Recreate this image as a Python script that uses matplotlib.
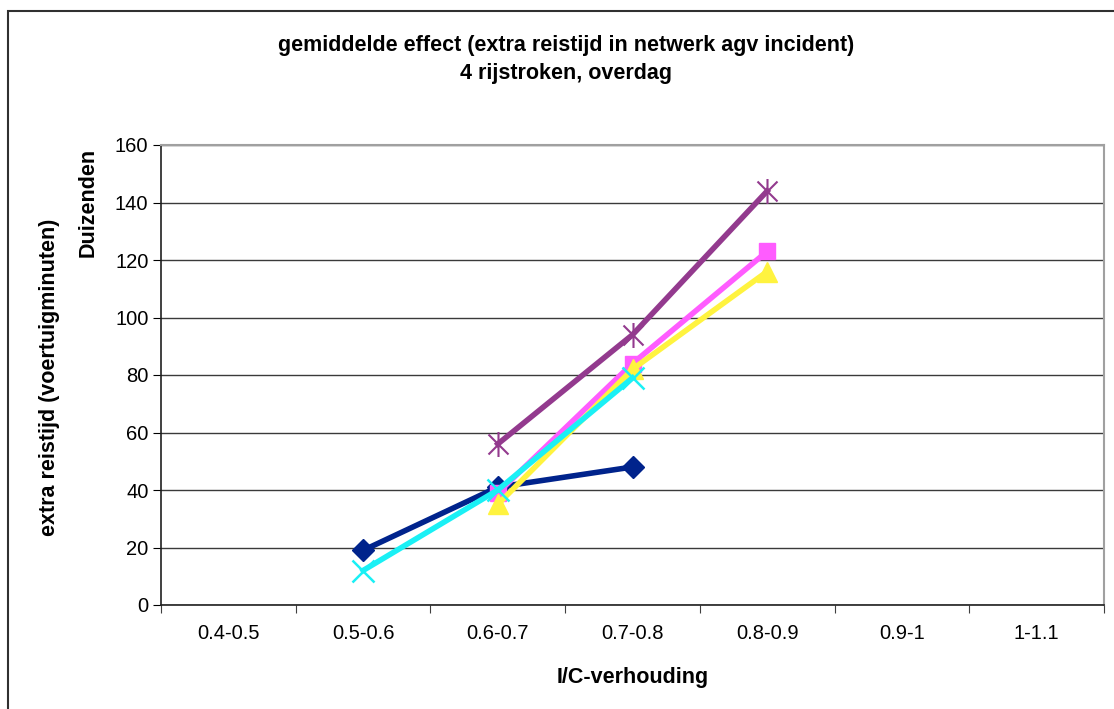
import numpy as np
import matplotlib.pyplot as plt
from matplotlib.path import Path
from matplotlib.patches import Rectangle

plt.rcParams['font.family'] = ['Liberation Sans', 'DejaVu Sans']

categories = ['0.4-0.5', '0.5-0.6', '0.6-0.7', '0.7-0.8', '0.8-0.9', '0.9-1', '1-1.1']
nan = np.nan
s_navy = [nan, 19, 41, 48, nan, nan, nan]
s_pink = [nan, nan, 39, 84, 123, nan, nan]
s_yellow = [nan, nan, 35, 82, 116, nan, nan]
s_cyan = [nan, 12, 40, 79, nan, nan, nan]
s_purple = [nan, nan, 56, 94, 144, nan, nan]
y_ticks = [0, 20, 40, 60, 80, 100, 120, 140, 160]

star = Path([(-1, -1), (1, 1), (-1, 1), (1, -1), (0, -1.25), (0, 1.25)],
            [Path.MOVETO, Path.LINETO, Path.MOVETO, Path.LINETO, Path.MOVETO, Path.LINETO])

fig = plt.figure(figsize=(11.14, 7.09), dpi=100)
ax = fig.add_axes([161 / 1114, 1 - 605 / 709, 943 / 1114, 460 / 709])

x = np.arange(len(categories)) + 0.5
ax.plot(x, s_navy, color='#00238C', lw=4, marker='D', ms=11, zorder=3)
ax.plot(x, s_pink, color='#FF5CFF', lw=4, marker='s', ms=12, zorder=3)
ax.plot(x, s_yellow, color='#FFF33F', lw=4, marker='^', ms=14, zorder=3)
ax.plot(x, s_cyan, color='#1AF0F5', lw=4, marker='x', ms=16, mew=1.8, zorder=3)
ax.plot(x, s_purple, color='#933A8E', lw=4, marker=star, ms=18, mew=1.5,
        mfc='none', zorder=3)

ax.set_xlim(0, len(categories))
ax.set_ylim(0, 160)
ax.set_yticks(y_ticks)
ax.set_xticks(np.arange(len(categories) + 1))
ax.set_xticklabels([])
ax.set_xticks(x, minor=True)
ax.set_xticklabels(categories, minor=True)
ax.tick_params(axis='x', which='minor', length=0, pad=14, labelsize=14.5)
ax.tick_params(axis='x', which='major', length=6, direction='out', color='#404040')
ax.tick_params(axis='y', length=6, direction='out', labelsize=14.5, pad=3)
ax.yaxis.grid(True, color='#3A3A3A', lw=1)
ax.set_axisbelow(True)
for side in ['top', 'right']:
    ax.spines[side].set_color('#A0A0A0')
    ax.spines[side].set_linewidth(1.5)
for side in ['left', 'bottom']:
    ax.spines[side].set_color('#202020')
    ax.spines[side].set_linewidth(1.2)

fig.text(566 / 1114, 1 - 46 / 709, 'gemiddelde effect (extra reistijd in netwerk agv incident)',
         ha='center', va='center', fontsize=15.5, fontweight='bold')
fig.text(566 / 1114, 1 - 74 / 709, '4 rijstroken, overdag',
         ha='center', va='center', fontsize=15.5, fontweight='bold')
fig.text(633 / 1114, 1 - 677 / 709, 'I/C-verhouding',
         ha='center', va='center', fontsize=15.5, fontweight='bold')
fig.text(50 / 1114, 1 - 377 / 709, 'extra reistijd (voertuigminuten)',
         ha='center', va='center', rotation=90, fontsize=15.5, fontweight='bold')
fig.text(88 / 1114, 1 - 202 / 709, 'Duizenden',
         ha='center', va='center', rotation=90, fontsize=15.5, fontweight='bold')

fig.patches.append(Rectangle((8 / 1114, -0.05), 1.1, 1 - 11 / 709 + 0.05,
                             transform=fig.transFigure, fill=False,
                             edgecolor='#303030', lw=1.5))

fig.savefig('out.png', dpi=100)
